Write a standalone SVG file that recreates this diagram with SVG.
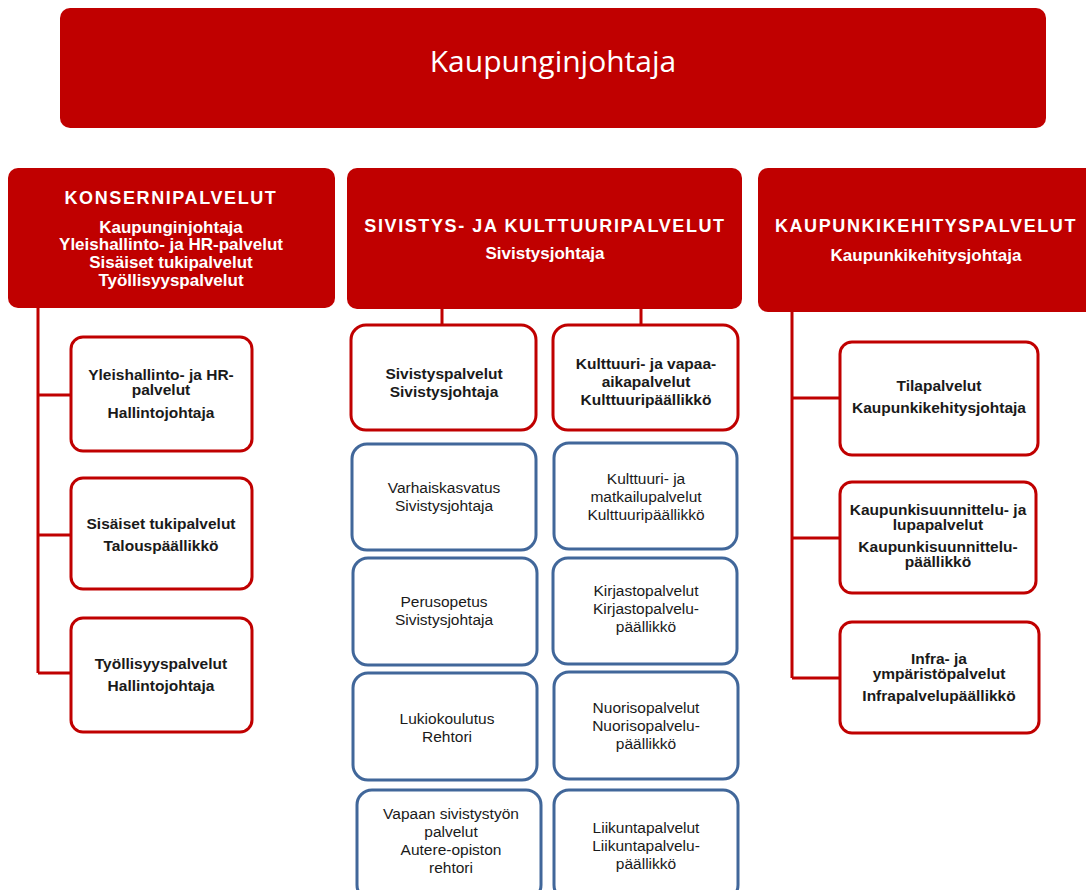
<svg xmlns="http://www.w3.org/2000/svg" width="1086" height="890" viewBox="0 0 1086 890">
<style>
.hdr{fill:#C00000}
.rb{fill:#fff;stroke:#C00000;stroke-width:3}
.bb{fill:#fff;stroke:#41679A;stroke-width:3}
.con{stroke:#C00000;stroke-width:3;fill:none}
text{font-family:"Liberation Sans",Arial,sans-serif;text-anchor:middle}
.top{font-family:"Open Sans","Noto Sans",sans-serif;font-size:30px;fill:#fff}
.ht{font-size:18px;font-weight:bold;fill:#fff;letter-spacing:1.6px}
.hs{font-size:17px;font-weight:bold;fill:#fff}
.bt{font-size:15.5px;font-weight:bold;fill:#1a1a1a}
.nt{font-size:15.5px;fill:#1a1a1a}
</style>
<g id="connectors">
<path class="con" d="M38 308 V673 M38 395 H71 M38 535 H71 M38 673 H71"/>
<path class="con" d="M442 308 V326 M641 308 V326"/>
<path class="con" d="M792 311 V678 M792 398 H840 M792 538 H840 M792 678 H840"/>
</g>
<g id="kaupunginjohtaja">
<rect class="hdr" x="60" y="8" width="986" height="120" rx="10"/>
<text class="top" x="553" y="72">Kaupunginjohtaja</text>
</g>
<g id="konsernipalvelut">
<rect class="hdr" x="8" y="168" width="327" height="140" rx="10"/>
<text class="ht" x="171" y="204">KONSERNIPALVELUT</text>
<text class="hs" x="171" y="233">Kaupunginjohtaja</text>
<text class="hs" x="171" y="250">Yleishallinto- ja HR-palvelut</text>
<text class="hs" x="171" y="268">Sisäiset tukipalvelut</text>
<text class="hs" x="171" y="286">Työllisyyspalvelut</text>
</g>
<g id="sivistys">
<rect class="hdr" x="347" y="168" width="395" height="141" rx="10"/>
<text class="ht" x="545" y="232">SIVISTYS- JA KULTTUURIPALVELUT</text>
<text class="hs" x="545" y="259">Sivistysjohtaja</text>
</g>
<g id="kaupunkikehitys">
<rect class="hdr" x="758" y="168" width="340" height="144" rx="10"/>
<text class="ht" x="926" y="232">KAUPUNKIKEHITYSPALVELUT</text>
<text class="hs" x="926" y="261">Kaupunkikehitysjohtaja</text>
</g>
<g id="yleishallinto">
<rect class="rb" x="71" y="337" width="181" height="114" rx="12"/>
<text class="bt" x="161" y="380">Yleishallinto- ja HR-</text>
<text class="bt" x="161" y="395">palvelut</text>
<text class="bt" x="161" y="418">Hallintojohtaja</text>
</g>
<g id="sisaiset">
<rect class="rb" x="71" y="478" width="181" height="111" rx="12"/>
<text class="bt" x="161" y="529">Sisäiset tukipalvelut</text>
<text class="bt" x="161" y="551">Talouspäällikkö</text>
</g>
<g id="tyollisyys">
<rect class="rb" x="71" y="618" width="181" height="114" rx="12"/>
<text class="bt" x="161" y="669">Työllisyyspalvelut</text>
<text class="bt" x="161" y="691">Hallintojohtaja</text>
</g>
<g id="sivistyspalvelut">
<rect class="rb" x="351" y="325" width="185" height="105" rx="15"/>
<text class="bt" x="444" y="379">Sivistyspalvelut</text>
<text class="bt" x="444" y="397">Sivistysjohtaja</text>
</g>
<g id="kulttuuri-vapaa">
<rect class="rb" x="553" y="325" width="185" height="105" rx="15"/>
<text class="bt" x="646" y="369">Kulttuuri- ja vapaa-</text>
<text class="bt" x="646" y="387">aikapalvelut</text>
<text class="bt" x="646" y="405">Kulttuuripäällikkö</text>
</g>
<g id="varhaiskasvatus">
<rect class="bb" x="352" y="444" width="184" height="106" rx="15"/>
<text class="nt" x="444" y="493">Varhaiskasvatus</text>
<text class="nt" x="444" y="511">Sivistysjohtaja</text>
</g>
<g id="kulttuuri-matkailu">
<rect class="bb" x="554" y="443" width="183" height="106" rx="15"/>
<text class="nt" x="646" y="484">Kulttuuri- ja</text>
<text class="nt" x="646" y="502">matkailupalvelut</text>
<text class="nt" x="646" y="520">Kulttuuripäällikkö</text>
</g>
<g id="perusopetus">
<rect class="bb" x="353" y="558" width="184" height="107" rx="15"/>
<text class="nt" x="444" y="607">Perusopetus</text>
<text class="nt" x="444" y="625">Sivistysjohtaja</text>
</g>
<g id="kirjasto">
<rect class="bb" x="553" y="558" width="184" height="106" rx="15"/>
<text class="nt" x="646" y="596">Kirjastopalvelut</text>
<text class="nt" x="646" y="614">Kirjastopalvelu-</text>
<text class="nt" x="646" y="632">päällikkö</text>
</g>
<g id="lukio">
<rect class="bb" x="353" y="673" width="184" height="107" rx="15"/>
<text class="nt" x="447" y="724">Lukiokoulutus</text>
<text class="nt" x="447" y="742">Rehtori</text>
</g>
<g id="nuoriso">
<rect class="bb" x="554" y="672" width="184" height="107" rx="15"/>
<text class="nt" x="646" y="713">Nuorisopalvelut</text>
<text class="nt" x="646" y="731">Nuorisopalvelu-</text>
<text class="nt" x="646" y="749">päällikkö</text>
</g>
<g id="vapaan">
<rect class="bb" x="357" y="790" width="184" height="110" rx="15"/>
<text class="nt" x="451" y="819">Vapaan sivistystyön</text>
<text class="nt" x="451" y="837">palvelut</text>
<text class="nt" x="451" y="855">Autere-opiston</text>
<text class="nt" x="451" y="873">rehtori</text>
</g>
<g id="liikunta">
<rect class="bb" x="554" y="790" width="184" height="110" rx="15"/>
<text class="nt" x="646" y="833">Liikuntapalvelut</text>
<text class="nt" x="646" y="851">Liikuntapalvelu-</text>
<text class="nt" x="646" y="869">päällikkö</text>
</g>
<g id="tilapalvelut">
<rect class="rb" x="840" y="342" width="198" height="113" rx="12"/>
<text class="bt" x="939" y="391">Tilapalvelut</text>
<text class="bt" x="939" y="413">Kaupunkikehitysjohtaja</text>
</g>
<g id="kaupunkisuunnittelu">
<rect class="rb" x="840" y="482" width="196" height="111" rx="12"/>
<text class="bt" x="938" y="515">Kaupunkisuunnittelu- ja</text>
<text class="bt" x="938" y="530">lupapalvelut</text>
<text class="bt" x="938" y="552">Kaupunkisuunnittelu-</text>
<text class="bt" x="938" y="567">päällikkö</text>
</g>
<g id="infra">
<rect class="rb" x="840" y="622" width="199" height="111" rx="12"/>
<text class="bt" x="939" y="664">Infra- ja</text>
<text class="bt" x="939" y="679">ympäristöpalvelut</text>
<text class="bt" x="939" y="701">Infrapalvelupäällikkö</text>
</g>
</svg>
